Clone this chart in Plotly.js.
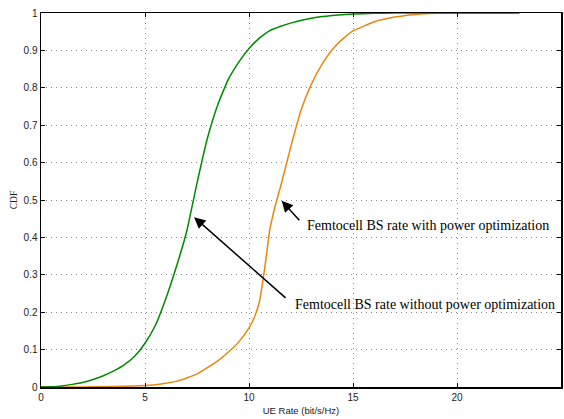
<!DOCTYPE html>
<html>
<head>
<meta charset="utf-8">
<script src="https://cdn.plot.ly/plotly-3.0.1.min.js"></script>
<style>html,body{margin:0;padding:0;background:#fff;}#chart{width:564px;height:419px;}</style>
</head>
<body>
<div id="chart"></div>
<script>
// Femtocell BS rate without power optimization (green)
const greenX = [0,0.5,1,1.5,2,2.5,3,3.5,4,4.5,5,5.5,6,6.5,7,7.5,8,8.5,9,9.5,10,10.5,11,11.5,12,13,14,15,16,17,20,23];
const greenY = [0,0.001,0.003,0.007,0.012,0.02,0.03,0.043,0.059,0.082,0.117,0.165,0.236,0.32,0.415,0.545,0.665,0.755,0.822,0.868,0.905,0.933,0.953,0.964,0.973,0.986,0.993,0.997,0.999,1,1,1];
// Femtocell BS rate with power optimization (orange)
const orangeX = [0,2,3,4,5,5.5,6,6.5,7,7.5,8,8.5,9,9.5,10,10.25,10.5,10.75,11,11.25,11.5,12,12.5,13,13.5,14,14.5,15,16,17,18,19,20,23];
const orangeY = [0,0,0.001,0.002,0.004,0.006,0.01,0.015,0.024,0.035,0.052,0.07,0.093,0.12,0.158,0.185,0.228,0.315,0.42,0.482,0.532,0.64,0.74,0.81,0.862,0.902,0.93,0.952,0.976,0.989,0.996,0.999,1,1];
const xTicks = [0,5,10,15,20,25];
const yTicks = [0,0.1,0.2,0.3,0.4,0.5,0.6,0.7,0.8,0.9,1];
const yTickText = ['0','0.1','0.2','0.3','0.4','0.5','0.6','0.7','0.8','0.9','1'];
const labelWith = 'Femtocell BS rate with power optimization';
const labelWithout = 'Femtocell BS rate without power optimization';

const traces = [
  {x: orangeX, y: orangeY, mode: 'lines', line: {color: '#e8870e', width: 1.5, shape: 'spline', smoothing: 0.4}, hoverinfo: 'skip'},
  {x: greenX, y: greenY, mode: 'lines', line: {color: '#008a00', width: 1.5, shape: 'spline', smoothing: 0.4}, hoverinfo: 'skip'}
];
const tickFont = {family: 'Liberation Sans, Arial, sans-serif', size: 10, color: '#222'};
const axisCommon = {
  showline: true, linecolor: '#000', linewidth: 1.5, mirror: 'ticks',
  ticks: 'inside', ticklen: 4, tickcolor: '#000', tickwidth: 1,
  showgrid: true, gridcolor: '#8a8a8a', griddash: '1px,4px', gridwidth: 1,
  zeroline: false, tickfont: tickFont
};
const layout = {
  width: 564, height: 419,
  margin: {l: 41, r: 3, t: 12.5, b: 31.5},
  paper_bgcolor: '#fff', plot_bgcolor: '#fff',
  showlegend: false,
  xaxis: Object.assign({}, axisCommon, {
    range: [0, 25], tickvals: xTicks, ticktext: xTicks.map(String),
    title: {text: 'UE Rate (bit/s/Hz)', font: {family: 'Liberation Sans, Arial, sans-serif', size: 9.5, color: '#222'}, standoff: 6}
  }),
  yaxis: Object.assign({}, axisCommon, {
    range: [0, 1], tickvals: yTicks, ticktext: yTickText,
    title: {text: 'CDF', font: {family: 'Liberation Serif, Times New Roman, serif', size: 9.5, color: '#222'}, standoff: 4}
  }),
  annotations: [
    {x: 11.57, y: 0.498, xref: 'x', yref: 'y', text: '', showarrow: true, ax: 19, ay: 21,
     arrowhead: 2, arrowsize: 1.5, arrowwidth: 1.5, arrowcolor: '#000'},
    {x: 7.36, y: 0.454, xref: 'x', yref: 'y', text: '', showarrow: true, ax: 93, ay: 82,
     arrowhead: 2, arrowsize: 1.5, arrowwidth: 1.5, arrowcolor: '#000'},
    {x: 12.69, y: 0.431, xref: 'x', yref: 'y', text: labelWith, showarrow: false, xanchor: 'left', yanchor: 'middle',
     font: {family: 'Liberation Serif, Times New Roman, serif', size: 14, color: '#000'}},
    {x: 12.1, y: 0.22, xref: 'x', yref: 'y', text: labelWithout, showarrow: false, xanchor: 'left', yanchor: 'middle',
     font: {family: 'Liberation Serif, Times New Roman, serif', size: 14, color: '#000'}}
  ]
};
Plotly.newPlot('chart', traces, layout, {staticPlot: true, displayModeBar: false});
</script>
</body>
</html>
